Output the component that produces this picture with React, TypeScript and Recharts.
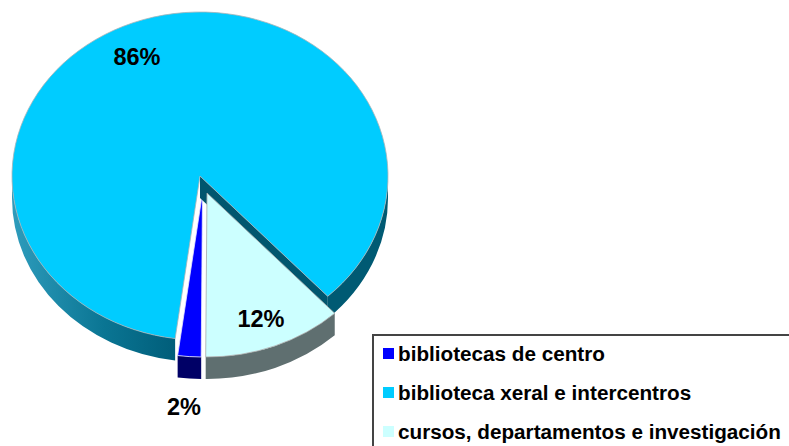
import React from "react";
import { PieChart, Pie, Legend } from "recharts";

const categories = ["bibliotecas de centro", "biblioteca xeral e intercentros", "cursos, departamentos e investigación"];
const shares = [2, 86, 12];
const topColours = ["#0000FF", "#00CCFF", "#CCFFFF"];
const wallColours = ["#000066", "url(#mainWall)", "#5F6F70"];
const edgeColours = ["#E8E8FF", "#A8B4B8", "#A8A8A8"];
const explode = [[2.5, 17], [0, 0], [7, 17]];
const labelCentres = [[184, 415], [137, 65], [261, 327]];

const rows = categories.map((name, i) => ({ name, value: shares[i], fill: topColours[i] }));

const CX = 200;
const CY = 176;
const RX = 188;
const RY = 164;
const DEPTH = 22;

const pt = (cx: number, cy: number, t: number) => {
  const a = (t * Math.PI) / 180;
  return [cx + RX * Math.cos(a), cy + RY * Math.sin(a)];
};

function wall(cx: number, cy: number, a: number, b: number) {
  const p = pt(cx, cy, a);
  const q = pt(cx, cy, b);
  return `M${p[0]},${p[1]} A${RX},${RY} 0 0 1 ${q[0]},${q[1]} L${q[0]},${q[1] + DEPTH} A${RX},${RY} 0 0 0 ${p[0]},${p[1] + DEPTH} Z`;
}

function Slice(props: any) {
  const i = props.index as number;
  const cx = props.cx + explode[i][0];
  const cy = props.cy + explode[i][1];
  const t0 = -props.startAngle;
  const t1 = -props.endAngle;
  const p = pt(cx, cy, t0);
  const q = pt(cx, cy, t1);
  const large = t1 - t0 > 180 ? 1 : 0;
  const top = `M${cx},${cy} L${p[0]},${p[1]} A${RX},${RY} 0 ${large} 1 ${q[0]},${q[1]} Z`;
  const walls: { d: string; fill: string }[] = [];
  for (const [lo, hi] of [[0, 180], [360, 540]]) {
    const a = Math.max(t0, lo);
    const b = Math.min(t1, hi);
    if (b > a) walls.push({ d: wall(cx, cy, a, b), fill: i === 1 && lo === 360 ? "#005A73" : wallColours[i] });
  }
  const cut = t1 - t0 > 180
    ? `M${cx},${cy} L${q[0]},${q[1]} L${q[0]},${q[1] + DEPTH} L${cx},${cy + DEPTH} Z`
    : null;
  return (
    <g>
      <defs>
        <linearGradient id="mainWall" gradientUnits="userSpaceOnUse" x1={12} y1={0} x2={180} y2={0}>
          <stop offset="0" stopColor="#2E9CBC" />
          <stop offset="0.55" stopColor="#0A7593" />
          <stop offset="1" stopColor="#005C78" />
        </linearGradient>
      </defs>
      {walls.map((w, k) => (
        <path key={k} d={w.d} fill={w.fill} />
      ))}
      {cut && <path d={cut} fill="#00566E" />}
      <path d={top} fill={props.fill} stroke={edgeColours[i]} strokeWidth={0.8} />
    </g>
  );
}

function SliceLabel(props: any) {
  const [x, y] = labelCentres[props.index];
  return (
    <text x={x} y={y} textAnchor="middle" fontFamily="Liberation Sans" fontWeight="bold" fontSize={23.5} fill="#000">
      {`${props.value}%`}
    </text>
  );
}

function LegendBox(props: any) {
  return (
    <div style={{ position: "relative", width: 417, height: 112, borderTop: "2px solid #444", borderLeft: "2px solid #444", boxSizing: "border-box", fontFamily: "Liberation Sans", fontWeight: "bold", fontSize: 20.7, color: "#000", overflow: "hidden" }}>
      {(props.payload || []).map((e: any, i: number) => (
        <div key={e.value} style={{ position: "absolute", left: 0, top: 0, width: 417, height: 112 }}>
          <span style={{ position: "absolute", left: 9, top: 12 + i * 39, width: 11, height: 11, background: e.color }} />
          <span style={{ position: "absolute", left: 24, top: 7 + i * 39, lineHeight: "22px", whiteSpace: "nowrap" }}>{e.value}</span>
        </div>
      ))}
    </div>
  );
}

export default function App() {
  return (
    <div style={{ position: "absolute", left: 0, top: 0, width: 789, height: 446, overflow: "hidden", background: "#fff" }}>
      <PieChart width={789} height={446} margin={{ top: 0, right: 0, bottom: 0, left: 0 }}>
        <Pie
          data={rows}
          dataKey="value"
          nameKey="name"
          cx={CX}
          cy={CY}
          outerRadius={RX}
          startAngle={-90.4}
          endAngle={-450.4}
          stroke="none"
          shape={Slice}
          label={SliceLabel}
          labelLine={false}
          isAnimationActive={false}
        />
        <Legend
          content={LegendBox}
          itemSorter={null}
          wrapperStyle={{ position: "absolute", left: 372, top: 334, width: 417, height: 112, bottom: "auto", right: "auto" }}
        />
      </PieChart>
    </div>
  );
}
